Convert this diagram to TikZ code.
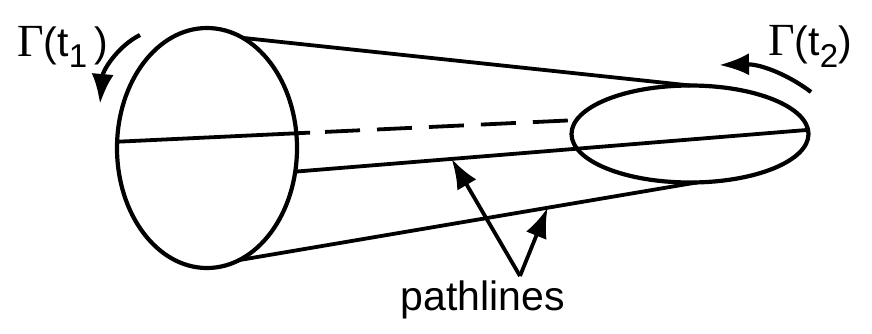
\documentclass[tikz,border=0pt]{standalone}
\usepackage{fontspec}
\setmainfont{Liberation Sans}
\newfontfamily\gammafont{Liberation Serif}
\usetikzlibrary{arrows.meta,positioning,calc,shapes.geometric}

\begin{document}
\begin{tikzpicture}[x=1pt,y=-1pt,
  disc/.style={draw,ellipse,line width=4.2pt,inner sep=0pt,outer sep=0pt},
  pline/.style={line width=3.8pt},
  bigtip/.style={line width=4.2pt,-{Latex[length=30pt,width=22pt]}},
  lbl/.style={font=\fontsize{41}{44}\selectfont,inner sep=0pt}]
  \useasboundingbox (0,0) rectangle (872,333);
  \node[disc,minimum width=180pt,minimum height=240pt] (disc1) at (207,148) {};
  \node[disc,minimum width=237pt,minimum height=97pt] (disc2) at (690,134) {};
  % cone outline and axis
  \draw[pline] (disc1.72.6) -- (disc2.90);
  \draw[pline] (disc1.-74) -- (disc2.-82);
  \coordinate (axisend) at ($(disc1.176.8)!0.42!(disc2.173.4)$);
  \draw[pline] (disc1.176.8) -- (axisend);
  \draw[pline,dash pattern=on 35pt off 17pt,dash phase=37pt] (axisend) -- (disc2.173.4);
  \draw[pline] (disc1.-15) -- (disc2.2.9);
  % labels
  \node[lbl,anchor=base west] (gam1) at (17,56) {{\gammafont\fontsize{46}{48}\selectfont Γ}(t\raisebox{-0.28em}{\fontsize{33}{34}\selectfont 1}\,)};
  \node[lbl,anchor=base west] (gam2) at (768,55) {{\gammafont\fontsize{46}{48}\selectfont Γ}(t\raisebox{-0.3em}{\fontsize{33}{34}\selectfont 2})};
  \node[lbl,anchor=base] (path) at (483,310) {pathlines};
  % rotation arrows
  \coordinate (rot1a) at (140,35);
  \coordinate (rot1b) at (100,104);
  \draw[bigtip] (rot1a) .. controls (118,46) and (103,70) .. (rot1b);
  \coordinate (rot2a) at (811,92);
  \coordinate (rot2b) at (719,65);
  \draw[bigtip] (rot2a) .. controls (790,76) and (762,64) .. (rot2b);
  % pointers to pathlines
  \coordinate (fork) at (520,276);
  \coordinate (tipA) at ($(disc1.-15)!0.305!(disc2.2.9)$);
  \coordinate (tipB) at ($(disc1.-74)!0.674!(disc2.-82)$);
  \draw[bigtip,line width=3.8pt] (fork) -- (tipA);
  \draw[bigtip,line width=3.8pt] (fork) -- (tipB);
\end{tikzpicture}
\end{document}
